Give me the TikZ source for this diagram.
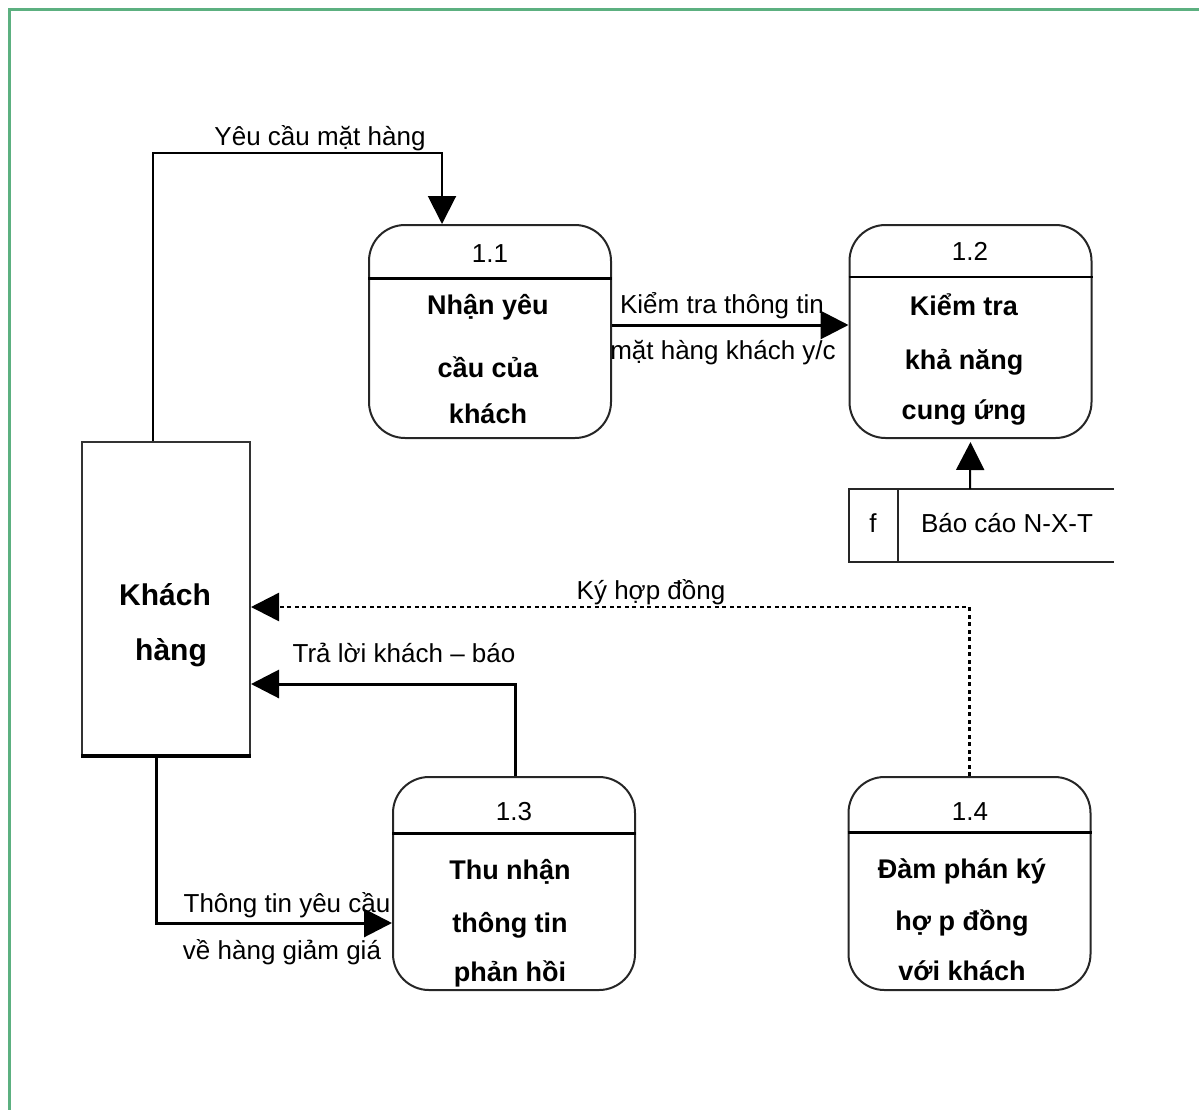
\documentclass[tikz,border=0pt]{standalone}
\usepackage{fontspec}
\setmainfont{Liberation Sans}
\usetikzlibrary{arrows.meta}
\definecolor{framegreen}{RGB}{92,176,128}
\begin{document}
\begin{tikzpicture}[x=1pt,y=-1pt,
  lbl/.style={inner sep=0pt,text height=19pt,text depth=5pt,font=\fontsize{26}{30}\selectfont},
  ttl/.style={inner sep=0pt,text height=20pt,text depth=6pt,font=\fontsize{27}{31}\selectfont\bfseries},
  big/.style={inner sep=0pt,text height=22pt,text depth=6pt,font=\fontsize{30}{34}\selectfont\bfseries},
  proc/.style={draw=black!85,line width=2pt,rounded corners=36pt,minimum width=242pt,minimum height=213pt,inner sep=0pt},
  entity/.style={draw=black!80,line width=2pt,minimum width=168pt,minimum height=313pt,inner sep=0pt},
  divider/.style={line width=3pt},
  conn/.style={line width=3pt,-{Triangle[width=28pt,length=28pt]}},
  thinconn/.style={line width=2pt,-{Triangle[width=28pt,length=28pt]}},
  dotconn/.style={line width=2.5pt,dash pattern=on 4pt off 3.5pt,-{Triangle[width=28pt,length=28pt]}},
  store/.style={draw=black!85,line width=2pt}]
\useasboundingbox (0,0) rectangle (1199,1109);
\draw[framegreen,line width=3pt] (9,9) rectangle (1230,1140);

% external entity
\node[entity] (kh) at (166,598.5) {};
\draw[line width=4pt] (kh.south west) -- (kh.south east);
\node[big] (khA) at (165,597) {Khách};
\node[big] (khB) at (171,652) {hàng};

% processes
\node[proc] (p11) at (490,331.5) {};
\node[proc] (p12) at (970.5,331.5) {};
\node[proc] (p13) at (514,883.5) {};
\node[proc] (p14) at (969.5,883.5) {};

\coordinate (d11) at (0,278);
\coordinate (d12) at (0,277);
\coordinate (d13) at (0,833);
\coordinate (d14) at (0,832);
\draw[divider] (p11.west |- d11) -- (p11.east |- d11);
\draw[line width=2pt] (p12.west |- d12) -- (p12.east |- d12);
\draw[divider] (p13.west |- d13) -- (p13.east |- d13);
\draw[divider] (p14.west |- d14) -- (p14.east |- d14);

\node[lbl] (n11) at (490,255) {1.1};
\node[ttl] (t11a) at (488,307) {Nhận yêu};
\node[ttl] (t11b) at (488,370) {cầu của};
\node[ttl] (t11c) at (488,416) {khách};

\node[lbl] (n12) at (970,253) {1.2};
\node[ttl] (t12a) at (964,308) {Kiểm tra};
\node[ttl] (t12b) at (964,362) {khả năng};
\node[ttl] (t12c) at (964,412) {cung ứng};

\node[lbl] (n13) at (514,813) {1.3};
\node[ttl] (t13a) at (510,872) {Thu nhận};
\node[ttl] (t13b) at (510,925) {thông tin};
\node[ttl] (t13c) at (510,974) {phản hồi};

\node[lbl] (n14) at (970,813) {1.4};
\node[ttl] (t14a) at (962,871) {Đàm phán ký};
\node[ttl] (t14b) at (962,923) {hợ p đồng};
\node[ttl] (t14c) at (962,973) {với khách};

% data store
\draw[store] (1114,489) -- (849,489) -- (849,562) -- (1114,562);
\draw[store] (898,489) -- (898,562);
\node[lbl] (dsf) at (873,525) {f};
\node[lbl] (dsn) at (1007,525) {Báo cáo N-X-T};
\coordinate (dstop) at (970,489);

% flows
\coordinate (a1) at (442,153);
\draw[thinconn] ([xshift=-13pt]kh.north) |- (a1) -- (a1 |- p11.north);
\node[lbl] (l1) at (320,138) {Yêu cầu mặt hàng};

\coordinate (y2) at (0,325);
\draw[conn] (p11.east |- y2) -- (p12.west |- y2);
\node[lbl] (l2a) at (722,306) {Kiểm tra thông tin};
\node[lbl] (l2b) at (723,352) {mặt hàng khách y/c};

\draw[thinconn] (dstop) -- ([yshift=-3pt]p12.south);

\coordinate (y4) at (0,607);
\draw[dotconn] (p14.north) |- (kh.east |- y4);
\node[lbl] (l4) at (651,592) {Ký hợp đồng};

\coordinate (y5) at (0,684);
\draw[conn] ([xshift=1pt]p13.north) |- (kh.east |- y5);
\node[lbl] (l5) at (404,655) {Trả lời khách – báo};

\coordinate (y6) at (0,923);
\draw[conn] ([xshift=-10pt]kh.south) |- (p13.west |- y6);
\node[lbl] (l6a) at (287,905) {Thông tin yêu cầu};
\node[lbl] (l6b) at (282,952) {về hàng giảm giá};
\end{tikzpicture}
\end{document}
